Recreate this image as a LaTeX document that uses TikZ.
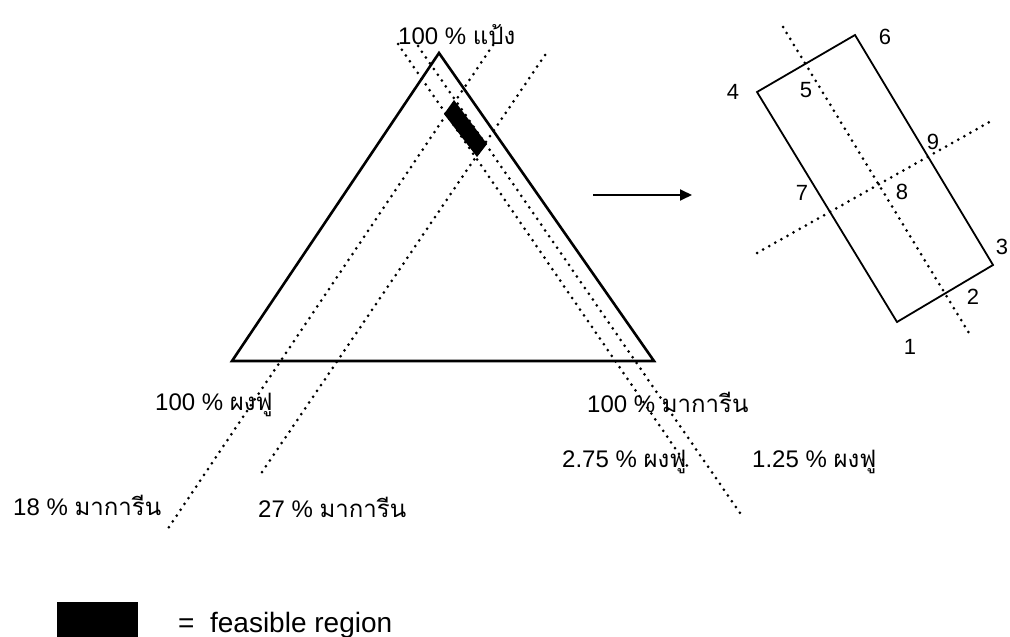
\documentclass[tikz,border=0pt]{standalone}
\usepackage{fontspec}
\setmainfont{Liberation Sans}
\newfontfamily\thai[Script=Thai]{Loma}
\usetikzlibrary{arrows.meta}
\begin{document}
\begin{tikzpicture}[x=1pt,y=-1pt,
  lbl/.style={inner sep=0pt,anchor=base west,font=\fontsize{24}{28}\selectfont},
  num/.style={inner sep=0pt,font=\fontsize{22}{25}\selectfont},
  dotline/.style={line width=3pt,line cap=round,dash pattern=on 0pt off 7pt},
  edge/.style={line width=2.6pt,line join=miter},
  redge/.style={line width=1.8pt,line join=miter}]
\useasboundingbox (0,0) rectangle (1010,637);
\fill[white] (0,0) rectangle (1010,637);
% triangle
\coordinate (A) at (439,53);
\coordinate (L) at (232,361);
\coordinate (R) at (654,361);
% dotted lines
\coordinate (d1s) at (398,44);  \coordinate (d1e) at (690,470);
\coordinate (d2s) at (418,46);  \coordinate (d2e) at (740,513);
\coordinate (d3s) at (493,45);  \coordinate (d3e) at (165,533);
\coordinate (d4s) at (545,55);  \coordinate (d4e) at (260,475);
\draw[dotline] (d1s) -- (d1e);
\draw[dotline] (d2s) -- (d2e);
\draw[dotline] (d3s) -- (d3e);
\draw[dotline] (d4s) -- (d4e);
\draw[edge] (A) -- (L) -- (R) -- cycle;
% feasible region
\fill[black] (454,100) -- (444,114) -- (477,157) -- (487,144) -- cycle;
% labels
\node[lbl] (top) at (398,45) {100 \% {\thai แป้ง}};
\node[lbl] (lft) at (155,410) {100 \% {\thai ผงฟู}};
\node[lbl] (rgt) at (587,412) {100 \% {\thai มาการีน}};
\node[lbl] (p275) at (562,467) {2.75 \% {\thai ผงฟู}};
\node[lbl] (p125) at (752,467) {1.25 \% {\thai ผงฟู}};
\node[lbl] (p18) at (13,515) {18 \% {\thai มาการีน}};
\node[lbl] (p27) at (258,517) {27 \% {\thai มาการีน}};
% arrow
\coordinate (ar1) at (593,195);
\coordinate (ar2) at (692,195);
\draw[line width=1.8pt,-{Triangle[length=12pt,width=11pt]}] (ar1) -- (ar2);
% right rectangle
\coordinate (c1) at (897,322);
\coordinate (c3) at (993,265);
\coordinate (c6) at (855,35);
\coordinate (c4) at (757,92);
\coordinate (la1) at (783,27); \coordinate (la2) at (972,338);
\coordinate (lb1) at (757,253); \coordinate (lb2) at (993,120);
\draw[dotline] (la1) -- (la2);
\draw[dotline] (lb1) -- (lb2);
\draw[redge] (c1) -- (c3) -- (c6) -- (c4) -- cycle;
\node[num] (n6) at (885,37) {6};
\node[num] (n4) at (733,92) {4};
\node[num] (n5) at (806,90) {5};
\node[num] (n9) at (933,142) {9};
\node[num] (n7) at (802,193) {7};
\node[num] (n8) at (902,192) {8};
\node[num] (n3) at (1002,247) {3};
\node[num] (n2) at (973,297) {2};
\node[num] (n1) at (910,347) {1};
% legend
\fill[black] (57,602) rectangle (138,640);
\node[lbl,font=\fontsize{28}{31}\selectfont] (leg) at (178,632) {=\ \ feasible region};
\end{tikzpicture}
\end{document}
